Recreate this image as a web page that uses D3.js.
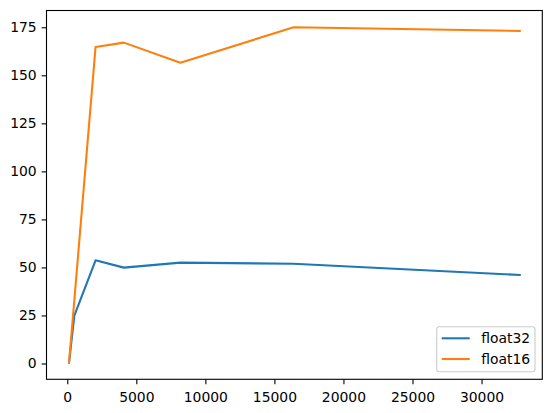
<!DOCTYPE html>
<html lang="en">
<head>
    <meta charset="utf-8">
    <title>float32 vs float16</title>
    <script type="text/javascript" src="https://d3js.org/d3.v7.min.js"></script>
    <style>
        body { margin: 0; background: white; }
        svg text { font-family: "DejaVu Sans", sans-serif; font-size: 13.9px; fill: black; }
        .axis path, .axis line { stroke: black; stroke-width: 1.1px; }
    </style>
</head>
<body>
    <div id="chart"></div>
    <script type="text/javascript">
        // data
        const sizes = [128, 512, 2048, 4096, 8192, 16384, 32768];
        const float32 = [0.5, 24.9, 53.7, 49.9, 52.5, 51.9, 46.1];
        const float16 = [0.5, 33, 164.7, 167.0, 156.5, 175.0, 173.1];
        const seriesNames = ["float32", "float16"];
        const xTicks = [0, 5000, 10000, 15000, 20000, 25000, 30000];
        const yTicks = [0, 25, 50, 75, 100, 125, 150, 175];

        const width = 552;
        const height = 413;
        const plotLeft = 46.5, plotTop = 10.5, plotRight = 542.3, plotBottom = 379.3;
        const colors = ["#1f77b4", "#ff7f0e"];

        const svg = d3.select("#chart")
            .append("svg")
            .attr("width", width)
            .attr("height", height);

        // matplotlib style 5% margins
        const xMin = d3.min(sizes), xMax = d3.max(sizes);
        const xPad = (xMax - xMin) * 0.05;
        const xScale = d3.scaleLinear()
            .domain([xMin - xPad, xMax + xPad])
            .range([plotLeft, plotRight]);

        const allY = float32.concat(float16);
        const yMin = d3.min(allY), yMax = d3.max(allY);
        const yPad = (yMax - yMin) * 0.05;
        const yScale = d3.scaleLinear()
            .domain([yMin - yPad, yMax + yPad])
            .range([plotBottom, plotTop]);

        const xAxis = d3.axisBottom(xScale)
            .tickValues(xTicks)
            .tickFormat(d3.format("d"))
            .tickSize(4.9)
            .tickPadding(4.9)
            .tickSizeOuter(0);
        const yAxis = d3.axisLeft(yScale)
            .tickValues(yTicks)
            .tickFormat(d3.format("d"))
            .tickSize(4.9)
            .tickPadding(4.9)
            .tickSizeOuter(0);

        const gx = svg.append("g")
            .attr("class", "axis")
            .attr("transform", "translate(0," + plotBottom + ")")
            .call(xAxis);
        gx.select(".domain").remove();
        gx.selectAll("text").attr("dy", "0.95em");

        const gy = svg.append("g")
            .attr("class", "axis")
            .attr("transform", "translate(" + plotLeft + ",0)")
            .call(yAxis);
        gy.select(".domain").remove();

        // lines
        const series = [float32, float16];
        const line = d3.line()
            .x((d, i) => xScale(sizes[i]))
            .y(d => yScale(d));

        svg.append("g")
            .selectAll("path")
            .data(series)
            .enter()
            .append("path")
                .attr("d", d => line(d))
                .attr("fill", "none")
                .attr("stroke", (d, i) => colors[i])
                .attr("stroke-width", 2.08)
                .attr("stroke-linejoin", "round")
                .attr("stroke-linecap", "square");

        // frame
        svg.append("rect")
            .attr("x", plotLeft)
            .attr("y", plotTop)
            .attr("width", plotRight - plotLeft)
            .attr("height", plotBottom - plotTop)
            .attr("fill", "none")
            .attr("stroke", "black")
            .attr("stroke-width", 1.1);

        // legend
        const legend = svg.append("g")
            .attr("transform", "translate(436.7,326.7)");
        legend.append("rect")
            .attr("width", 98.3)
            .attr("height", 45)
            .attr("rx", 2.5)
            .attr("fill", "white")
            .attr("fill-opacity", 0.8)
            .attr("stroke", "#cccccc")
            .attr("stroke-width", 1.1);
        const items = legend.selectAll("g.item")
            .data(seriesNames)
            .enter()
            .append("g")
                .attr("class", "item")
                .attr("transform", (d, i) => "translate(0," + (11.6 + i * 20.7) + ")");
        items.append("line")
            .attr("x1", 5)
            .attr("x2", 33)
            .attr("stroke", (d, i) => colors[i])
            .attr("stroke-width", 2.08);
        items.append("text")
            .attr("x", 44.5)
            .attr("dy", "0.35em")
            .text(d => d);
    </script>
</body>
</html>
